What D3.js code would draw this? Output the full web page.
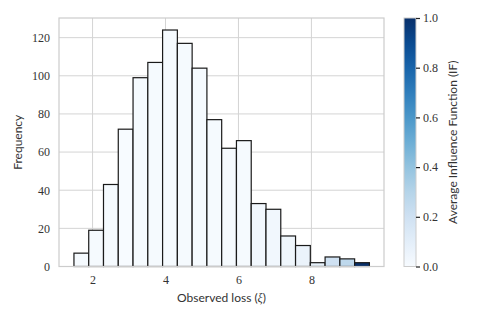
<!DOCTYPE html>
<html>
<head>
<meta charset="utf-8">
<script src="https://cdn.jsdelivr.net/npm/d3@7"></script>
<style>
  body { margin: 0; background: #fff; }
  .lab { font-family: Lato, "DejaVu Sans", sans-serif; font-size: 12px; fill: #333; }
</style>
</head>
<body>
<script>
// histogram bins (left edge), counts and average IF per bin
var binLo = [1.49, 1.895, 2.30, 2.705, 3.11, 3.515, 3.92, 4.325, 4.73, 5.135,
             5.54, 5.945, 6.35, 6.755, 7.16, 7.565, 7.97, 8.375, 8.78, 9.185];
var binW = 0.405;
var counts = [7, 19, 43, 72, 99, 107, 124, 117, 104, 77,
              62, 66, 33, 30, 16, 11, 2, 5, 4, 2];
var avgIF = [0.01, 0.01, 0.01, 0.0, 0.01, 0.01, 0.01, 0.01, 0.01, 0.01,
             0.01, 0.01, 0.03, 0.03, 0.04, 0.06, 0.08, 0.2, 0.27, 1.0];
var xTicks = [2, 4, 6, 8];
var yTicks = [0, 20, 40, 60, 80, 100, 120];
var cTicks = [0.0, 0.2, 0.4, 0.6, 0.8, 1.0];

var w = 480, h = 320;
var margin = {top: 18, left: 59, right: 96, bottom: 53.5};

var svg = d3.select("body").append("svg")
  .attr("width", w).attr("height", h);

var x = d3.scaleLinear().domain([1.08, 9.99]).range([margin.left, w - margin.right]);
var y = d3.scaleLinear().domain([0, 130.3]).range([h - margin.bottom, margin.top]);
var color = d3.scaleSequential(d3.interpolateBlues).domain([0, 1]);

function serifTicks(g) {
  g.attr("font-family", null).attr("font-size", null);
  g.selectAll(".tick text")
    .style("font-family", "'Liberation Serif', 'DejaVu Serif', serif")
    .style("font-size", "12px")
    .style("fill", "#333");
}

// grid
svg.append("g").selectAll("line").data(yTicks).enter().append("line")
  .attr("x1", x.range()[0]).attr("x2", x.range()[1])
  .attr("y1", d => y(d)).attr("y2", d => y(d))
  .attr("stroke", "#d4d4d4").attr("stroke-width", 1);
svg.append("g").selectAll("line").data(xTicks).enter().append("line")
  .attr("y1", y.range()[0]).attr("y2", y.range()[1])
  .attr("x1", d => x(d)).attr("x2", d => x(d))
  .attr("stroke", "#d4d4d4").attr("stroke-width", 1);

// bars
svg.append("g").selectAll("rect").data(counts).enter().append("rect")
  .attr("x", (d, i) => x(binLo[i]))
  .attr("width", (d, i) => x(binLo[i] + binW) - x(binLo[i]))
  .attr("y", d => y(d))
  .attr("height", d => y(0) - y(d))
  .attr("fill", (d, i) => color(avgIF[i]))
  .attr("stroke", "#1a1a1a").attr("stroke-width", 1.2);

// frame
svg.append("rect")
  .attr("x", x.range()[0]).attr("y", y.range()[1])
  .attr("width", x.range()[1] - x.range()[0])
  .attr("height", y.range()[0] - y.range()[1])
  .attr("fill", "none").attr("stroke", "#cccccc").attr("stroke-width", 1.2);

// axes (labels only)
var xAxis = svg.append("g")
  .attr("transform", "translate(0," + (h - margin.bottom) + ")")
  .call(d3.axisBottom(x).tickValues(xTicks).tickSize(0).tickPadding(9));
xAxis.select(".domain").remove();
serifTicks(xAxis);

var yAxis = svg.append("g")
  .attr("transform", "translate(" + margin.left + ",0)")
  .call(d3.axisLeft(y).tickValues(yTicks).tickSize(0).tickPadding(9));
yAxis.select(".domain").remove();
serifTicks(yAxis);

var xl = svg.append("text").attr("class", "lab")
  .attr("x", (x.range()[0] + x.range()[1]) / 2).attr("y", 302)
  .attr("text-anchor", "middle");
xl.append("tspan").text("Observed loss (");
xl.append("tspan").text("ξ").style("font-family", "'Liberation Serif', serif").style("font-style", "italic");
xl.append("tspan").text(")");

svg.append("text").attr("class", "lab")
  .attr("transform", "translate(22," + ((y.range()[0] + y.range()[1]) / 2) + ") rotate(-90)")
  .attr("text-anchor", "middle")
  .text("Frequency");

// colorbar
var cbX = 404, cbW = 12;
var cy = d3.scaleLinear().domain([0, 1]).range([h - margin.bottom, margin.top]);
var defs = svg.append("defs");
var grad = defs.append("linearGradient").attr("id", "cbar")
  .attr("x1", "0").attr("y1", "1").attr("x2", "0").attr("y2", "0");
grad.selectAll("stop").data(d3.range(0, 1.001, 0.1)).enter().append("stop")
  .attr("offset", d => d).attr("stop-color", d => color(d));

svg.append("rect")
  .attr("x", cbX).attr("y", cy(1))
  .attr("width", cbW).attr("height", cy(0) - cy(1))
  .attr("fill", "url(#cbar)")
  .attr("stroke", "#cccccc").attr("stroke-width", 1);

var cAxis = svg.append("g")
  .attr("transform", "translate(" + (cbX + cbW) + ",0)")
  .call(d3.axisRight(cy).tickValues(cTicks).tickFormat(d3.format(".1f")).tickSize(4).tickPadding(3));
cAxis.select(".domain").remove();
cAxis.selectAll(".tick line").attr("stroke", "#222").attr("stroke-width", 1.2);
serifTicks(cAxis);

svg.append("text").attr("class", "lab")
  .attr("transform", "translate(457," + ((cy(0) + cy(1)) / 2) + ") rotate(-90)")
  .attr("text-anchor", "middle")
  .text("Average Influence Function (IF)");
</script>
</body>
</html>
